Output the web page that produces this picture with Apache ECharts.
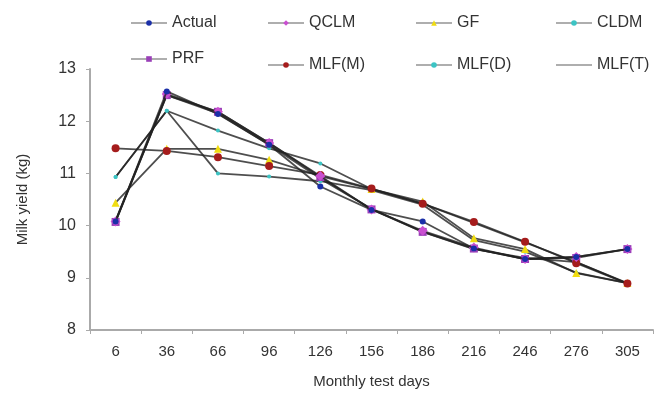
<!DOCTYPE html>
<html>
<head>
<meta charset="utf-8">
<script src="https://cdn.jsdelivr.net/npm/echarts@6/dist/echarts.min.js"></script>
<style>
  html, body { margin: 0; padding: 0; background: #fff; }
  #chart { width: 665px; height: 399px; }
</style>
</head>
<body>
<div id="chart"></div>
<script>
// test days (x categories)
var days = ['6', '36', '66', '96', '126', '156', '186', '216', '246', '276', '305'];
var yTicks = [8, 9, 10, 11, 12, 13];

// values
var actual = [10.08, 12.57, 12.14, 11.55, 10.75, 10.30, 10.08, 9.56, 9.36, 9.40, 9.55];
var qclm   = [10.08, 12.52, 12.18, 11.58, 10.95, 10.31, 9.90, 9.58, 9.36, 9.40, 9.55];
var gf     = [10.44, 11.47, 11.47, 11.26, 10.95, 10.70, 10.46, 9.76, 9.55, 9.09, 8.90];
var cldm   = [10.93, 12.20, 11.82, 11.48, 11.19, 10.70, 10.42, 10.05, 9.68, 9.30, 8.90];
var prf    = [10.07, 12.50, 12.18, 11.58, 10.93, 10.31, 9.88, 9.56, 9.36, 9.38, 9.55];
var mlfM   = [11.48, 11.43, 11.31, 11.14, 10.97, 10.71, 10.42, 10.07, 9.69, 9.28, 8.89];
var mlfD   = [10.93, 12.20, 11.00, 10.94, 10.85, 10.68, 10.40, 9.72, 9.50, 9.10, 8.90];
var mlfT   = [10.10, 12.50, 12.15, 11.55, 10.90, 10.32, 9.88, 9.55, 9.38, 9.30, 8.89];

var names = ['Actual', 'QCLM', 'GF', 'CLDM', 'PRF', 'MLF(M)', 'MLF(D)', 'MLF(T)'];
var values = [actual, qclm, gf, cldm, prf, mlfM, mlfD, mlfT];
var markers = [
  { symbol: 'circle',   size: 6, color: '#1a2fa8', z: 9 },
  { symbol: 'diamond',  size: 10, color: '#c94fd0', z: 6 },
  { symbol: 'triangle', size: 8, color: '#f0dc10', z: 5 },
  { symbol: 'circle',   size: 4, color: '#3cc4c4', z: 4 },
  { symbol: 'rect',     size: 8, color: '#9a3fb8', z: 5 },
  { symbol: 'circle',   size: 8, color: '#a51c1c', z: 5 },
  { symbol: 'circle',   size: 4, color: '#3cc4c4', z: 4 },
  { symbol: 'none',     size: 4, color: '#555', z: 3 }
];

// legend positions: two rows, four columns
var legLeft = [125, 262, 410, 550, 125, 262, 410, 550];
var legTop  = [10, 10, 10, 10, 46, 52, 52, 52];

var font = 'Liberation Sans, Arial, sans-serif';

var chart = echarts.init(document.getElementById('chart'));

var series = names.map(function (n, i) {
  var m = markers[i];
  return {
    name: n,
    type: 'line',
    data: values[i],
    symbol: m.symbol,
    symbolSize: m.size,
    showSymbol: m.symbol !== 'none',
    z: m.z,
    lineStyle: { color: '#222', width: 1.8, opacity: 0.8 },
    itemStyle: { color: m.color, borderWidth: 0 },
    emphasis: { disabled: true },
    animation: false
  };
});

var legends = names.map(function (n, i) {
  return {
    data: [n],
    left: legLeft[i],
    top: legTop[i],
    itemWidth: 36,
    itemHeight: 7,
    itemGap: 8,
    lineStyle: { color: '#9a9a9a', width: 2 },
    itemStyle: markers[i].symbol === 'none' ? { opacity: 0 } : {},
    textStyle: { fontFamily: font, fontSize: 16, color: '#333' },
    selectedMode: false
  };
});

var option = {
  backgroundColor: '#fff',
  animation: false,
  legend: legends,
  grid: { left: 90, right: 12, top: 69, bottom: 69 },
  xAxis: {
    type: 'category',
    data: days,
    boundaryGap: true,
    name: 'Monthly test days',
    nameLocation: 'middle',
    nameGap: 44,
    nameTextStyle: { fontFamily: font, fontSize: 15, color: '#333' },
    axisLine: { lineStyle: { color: '#aaa', width: 2 } },
    axisTick: { show: true, length: 4, lineStyle: { color: '#aaa' } },
    axisLabel: { fontFamily: font, fontSize: 15, color: '#333', margin: 14 }
  },
  yAxis: {
    type: 'value',
    min: yTicks[0],
    max: yTicks[yTicks.length - 1],
    interval: 1,
    name: 'Milk yield (kg)',
    nameLocation: 'middle',
    nameGap: 60,
    nameTextStyle: { fontFamily: font, fontSize: 15, color: '#333' },
    axisLine: { show: true, lineStyle: { color: '#aaa', width: 2 } },
    axisTick: { show: true, length: 4, lineStyle: { color: '#aaa' } },
    splitLine: { show: false },
    axisLabel: { fontFamily: font, fontSize: 16, color: '#333', margin: 14 }
  },
  series: series
};

option && chart.setOption(option);
</script>
</body>
</html>
